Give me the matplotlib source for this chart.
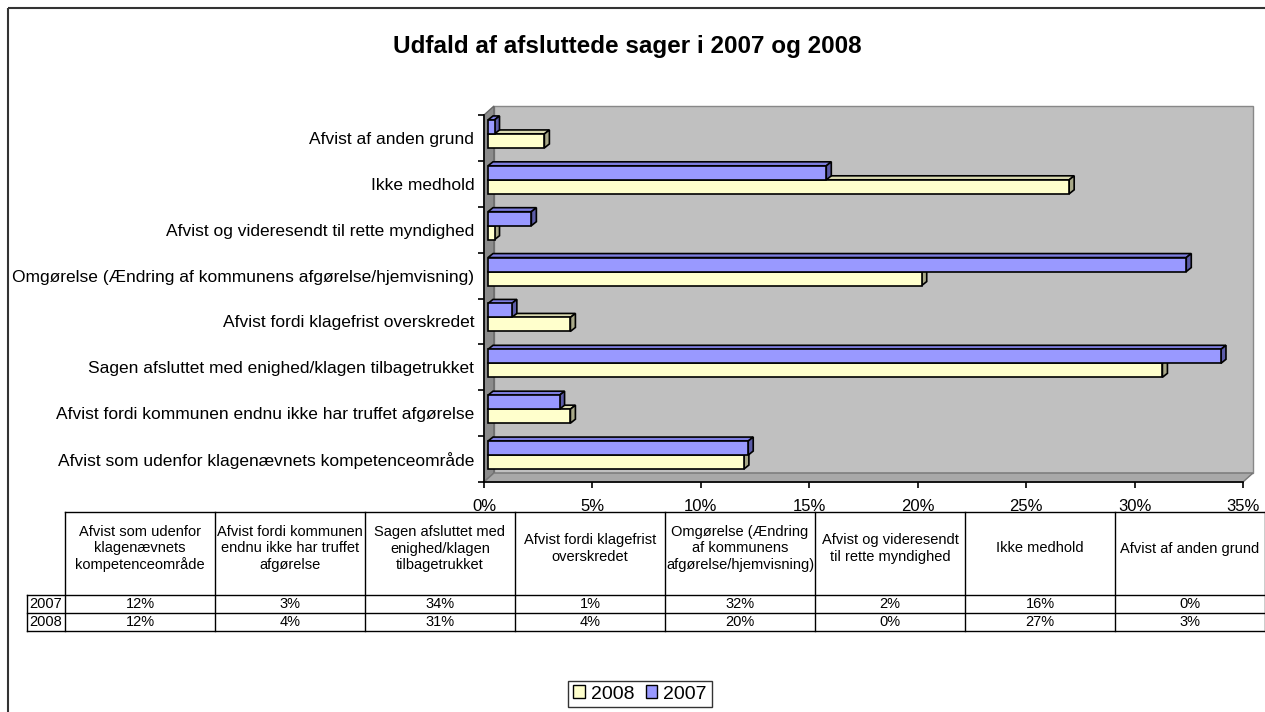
import matplotlib
matplotlib.use("Agg")
import matplotlib.pyplot as plt
from matplotlib.patches import Polygon, Rectangle
import numpy as np

plt.rcParams['font.family'] = ['Liberation Sans', 'DejaVu Sans']

# data (bottom to top in chart = left to right in table)
categories = ["Afvist som udenfor klagenævnets kompetenceområde",
              "Afvist fordi kommunen endnu ikke har truffet afgørelse",
              "Sagen afsluttet med enighed/klagen tilbagetrukket",
              "Afvist fordi klagefrist overskredet",
              "Omgørelse (Ændring af kommunens afgørelse/hjemvisning)",
              "Afvist og videresendt til rette myndighed",
              "Ikke medhold",
              "Afvist af anden grund"]
headers = ["Afvist som udenfor\nklagenævnets\nkompetenceområde",
           "Afvist fordi kommunen\nendnu ikke har truffet\nafgørelse",
           "Sagen afsluttet med\nenighed/klagen\ntilbagetrukket",
           "Afvist fordi klagefrist\noverskredet",
           "Omgørelse (Ændring\naf kommunens\nafgørelse/hjemvisning)",
           "Afvist og videresendt\ntil rette myndighed",
           "Ikke medhold",
           "Afvist af anden grund"]
v2007 = [12.0, 3.3, 33.8, 1.1, 32.2, 2.0, 15.6, 0.3]
v2008 = [11.8, 3.8, 31.1, 3.8, 20.0, 0.3, 26.8, 2.6]
xticks = [0, 5, 10, 15, 20, 25, 30, 35]

W, H = 1265, 712
fig = plt.figure(figsize=(W/100, H/100), dpi=100)

# background axes in pixel coords for walls, border, table
bg = fig.add_axes([0, 0, 1, 1], zorder=0)
bg.set_xlim(0, W)
bg.set_ylim(H, 0)
bg.axis('off')

# outer chart border
bg.add_patch(Rectangle((8, 8), W, H, fill=False, ec='#333333', lw=1.5))

# title
bg.text(627, 47, "Udfald af afsluttede sager i 2007 og 2008", ha='center', va='center',
        fontsize=17.5, fontweight='bold')

# 3d walls
L, R, T, B = 484, 1243, 115, 482
dx, dy = 10, 9
bg.add_patch(Rectangle((L+dx, T-dy), R-L, B-T, fc='#C0C0C0', ec='#888888', lw=1))
bg.add_patch(Polygon([(L, T), (L+dx, T-dy), (L+dx, B-dy), (L, B)], closed=True,
                     fc='#8C8C8C', ec='#666666', lw=1))
bg.add_patch(Polygon([(L, B), (L+dx, B-dy), (R+dx, B-dy), (R, B)], closed=True,
                     fc='#A8A8A8', ec='#777777', lw=1))

# main axes (front plane)
ax = fig.add_axes([L/W, 1-B/H, (R-L)/W, (B-T)/H], zorder=1)
ax.set_facecolor('none')
ax.set_xlim(0, 35)
ax.set_ylim(-0.5, 7.5)
for s in ['top', 'right']:
    ax.spines[s].set_visible(False)
ax.spines['left'].set_linewidth(1.2)
ax.spines['bottom'].set_linewidth(1.2)

ppx = ax.transData.transform((1, 1)) - ax.transData.transform((0, 0))
ox, oy = 4/ppx[0], 4/ppx[1]     # bar front offset
ex, ey = 5/ppx[0], 4/ppx[1]     # bar depth
h = 14/ppx[1]

y = np.arange(len(categories))


def bar3d(ys, vals, front, top, side):
    ax.barh(ys + oy, vals, height=h, left=ox, align='edge', color=front,
            edgecolor='black', linewidth=1.2, zorder=3)
    for yy, v in zip(ys, vals):
        y0 = yy + oy
        x1 = ox + v
        ax.add_patch(Polygon([(ox, y0+h), (x1, y0+h), (x1+ex, y0+h+ey), (ox+ex, y0+h+ey)],
                             closed=True, fc=top, ec='black', lw=1.2, zorder=2))
        ax.add_patch(Polygon([(x1, y0), (x1+ex, y0+ey), (x1+ex, y0+h+ey), (x1, y0+h)],
                             closed=True, fc=side, ec='black', lw=1.2, zorder=2))


bar3d(y - h, np.array(v2008), '#FFFFCC', '#DADAB0', '#A8A888')
bar3d(y, np.array(v2007), '#9999FF', '#7E7EE0', '#5C5CA8')

ax.set_xticks(xticks)
ax.set_xticklabels([f"{t}%" for t in xticks], fontsize=12)
ax.tick_params(axis='x', direction='out', length=4.5, width=1.2, pad=8)
ax.set_yticks(np.arange(-0.5, 8, 1))
ax.set_yticklabels([])
ax.tick_params(axis='y', which='major', direction='out', length=4.5, width=1.2)
ax.set_yticks(y, minor=True)
ax.set_yticklabels(categories, minor=True, fontsize=12.5)
ax.tick_params(axis='y', which='minor', length=0, pad=7)

# data table
tx0, cw = 65, 150
rl = 27
ty = [512, 595, 613, 631]
tfs = 10.5
bg.plot([tx0, tx0 + cw*len(categories)], [ty[0], ty[0]], color='black', lw=1)
for yy in ty[1:]:
    bg.plot([rl, tx0 + cw*len(categories)], [yy, yy], color='black', lw=1)
bg.plot([rl, rl], [ty[1], ty[3]], color='black', lw=1)
for j in range(len(categories) + 1):
    xx = tx0 + cw*j
    bg.plot([xx, xx], [ty[0], ty[3]], color='black', lw=1)
for j, hd in enumerate(headers):
    cx = tx0 + cw*j + cw/2
    bg.text(cx, (ty[0]+ty[1])/2 - 5, hd, ha='center', va='center', fontsize=tfs, linespacing=1.2)
    bg.text(cx, (ty[1]+ty[2])/2, f"{round(v2007[j])}%", ha='center', va='center', fontsize=tfs)
    bg.text(cx, (ty[2]+ty[3])/2, f"{round(v2008[j])}%", ha='center', va='center', fontsize=tfs)
bg.text(rl+2, (ty[1]+ty[2])/2, "2007", ha='left', va='center', fontsize=tfs)
bg.text(rl+2, (ty[2]+ty[3])/2, "2008", ha='left', va='center', fontsize=tfs)

# legend
hy = Rectangle((0, 0), 1, 1, fc='#FFFFCC', ec='black', lw=1)
hb = Rectangle((0, 0), 1, 1, fc='#9999FF', ec='black', lw=1)
fig.legend([hy, hb], ["2008", "2007"], loc='center', bbox_to_anchor=(640/W, 1-694/H),
           ncol=2, fontsize=14, frameon=True, fancybox=False, edgecolor='black',
           handlelength=0.6, handleheight=0.6, handletextpad=0.3, columnspacing=0.6,
           borderpad=0.25, borderaxespad=0)

fig.savefig("out.png", dpi=100)
